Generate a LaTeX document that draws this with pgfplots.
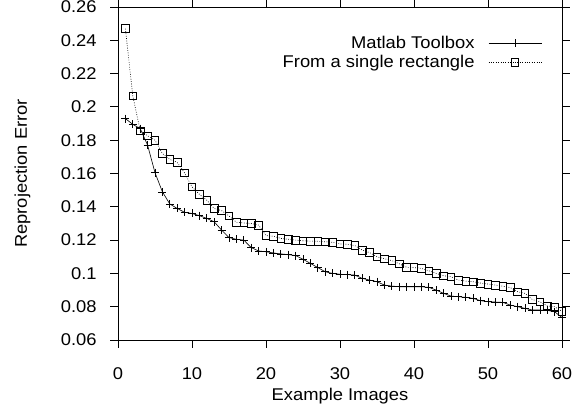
\documentclass[border=0pt]{standalone}
\usepackage{fontspec}
\setmainfont{Liberation Sans}[FakeStretch=1.08]
\usepackage{pgfplots}
\pgfplotsset{compat=1.18}
\begin{document}
\fontsize{17bp}{20bp}\selectfont
\begin{tikzpicture}
\begin{axis}[
  at={(0,0)}, anchor=south west,
  width=444bp, height=333bp, scale only axis,
  xmin=0, xmax=60, ymin=0.06, ymax=0.26,
  xtick={0,10,20,30,40,50,60},
  ytick={0.06,0.08,0.10,0.12,0.14,0.16,0.18,0.20,0.22,0.24,0.26},
  yticklabels={0.06,0.08,0.1,0.12,0.14,0.16,0.18,0.2,0.22,0.24,0.26},
  scaled y ticks=false,
  /pgf/number format/assume math mode=true,
  tick align=outside,
  major tick length=7.5bp,
  every tick/.style={black, line width=0.9bp},
  axis line style={line width=0.9bp},
  tick label style={font=\fontsize{17bp}{20bp}\selectfont},
  xticklabel style={yshift=-14bp},
  yticklabel style={xshift=-8bp},
  label style={font=\fontsize{17bp}{20bp}\selectfont},
  xlabel={Example Images},
  xlabel style={yshift=3bp},
  ylabel={Reprojection Error},
  ylabel style={yshift=19bp},
  legend plot pos=right,
  legend cell align=right,
  legend style={draw=none, fill=none, at={(0.955,0.92)}, anchor=north east,
    inner sep=0pt, row sep=0bp, font=\fontsize{17bp}{20bp}\selectfont},
  legend image code/.code={\path[draw=none,fill=none] (0bp,0bp) -- (1bp,0bp);\draw[#1, mark repeat=2, mark phase=2] plot coordinates {(12bp,0bp) (38.5bp,0bp) (65bp,0bp)};},
]
\addplot[black, line width=0.6bp, mark=+, mark size=4bp, mark options={solid, line width=0.6bp}] coordinates {
(1,0.193) (2,0.1895) (3,0.187) (4,0.177) (5,0.1605) (6,0.149) (7,0.1417) (8,0.139) (9,0.1367) (10,0.136)
(11,0.1347) (12,0.133) (13,0.131) (14,0.126) (15,0.1215) (16,0.1205) (17,0.120) (18,0.1155) (19,0.1135) (20,0.113)
(21,0.1123) (22,0.1117) (23,0.1113) (24,0.1107) (25,0.1085) (26,0.106) (27,0.1035) (28,0.101) (29,0.100) (30,0.0995)
(31,0.0993) (32,0.099) (33,0.097) (34,0.096) (35,0.095) (36,0.093) (37,0.0924) (38,0.092) (39,0.092) (40,0.092)
(41,0.092) (42,0.0916) (43,0.090) (44,0.088) (45,0.0864) (46,0.086) (47,0.0856) (48,0.085) (49,0.0836) (50,0.083)
(51,0.0828) (52,0.0826) (53,0.081) (54,0.080) (55,0.079) (56,0.078) (57,0.078) (58,0.0778) (59,0.077) (60,0.0735)
};
\addlegendentry{Matlab Toolbox}
\addplot[black, line width=0.6bp, dash pattern=on 0.8bp off 1.6bp, mark=square, mark size=3.8bp, mark options={solid, line width=0.7bp}] coordinates {
(1,0.247) (2,0.2066) (3,0.1857) (4,0.1827) (5,0.180) (6,0.172) (7,0.1685) (8,0.1667) (9,0.1603) (10,0.152)
(11,0.1475) (12,0.144) (13,0.139) (14,0.1377) (15,0.1345) (16,0.1307) (17,0.1303) (18,0.130) (19,0.129) (20,0.1227)
(21,0.1223) (22,0.121) (23,0.1205) (24,0.120) (25,0.1196) (26,0.1194) (27,0.1193) (28,0.119) (29,0.1187) (30,0.1177)
(31,0.1175) (32,0.1167) (33,0.114) (34,0.1125) (35,0.110) (36,0.1088) (37,0.1077) (38,0.1058) (39,0.1037) (40,0.1035)
(41,0.103) (42,0.1016) (43,0.100) (44,0.0986) (45,0.098) (46,0.096) (47,0.0954) (48,0.095) (49,0.0942) (50,0.0936)
(51,0.093) (52,0.0923) (53,0.0915) (54,0.089) (55,0.088) (56,0.0843) (57,0.083) (58,0.0805) (59,0.080) (60,0.0772)
};
\addlegendentry{From a single rectangle}
\end{axis}
\pgfresetboundingbox
\path[use as bounding box] (-118bp,-70bp) rectangle (469bp,340bp);
\end{tikzpicture}
\end{document}
